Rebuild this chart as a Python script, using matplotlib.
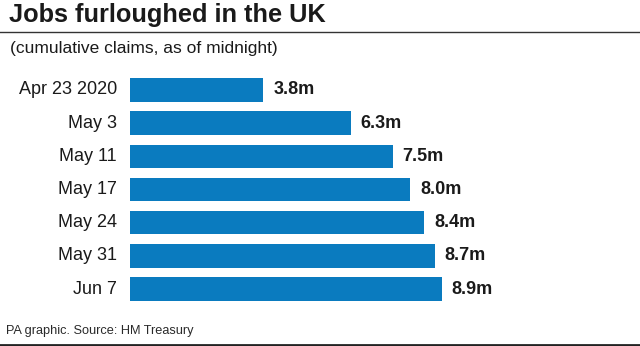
import matplotlib
matplotlib.use("Agg")
import matplotlib.pyplot as plt
from matplotlib.lines import Line2D

plt.rcParams['font.family'] = ['Liberation Sans', 'DejaVu Sans']

dates = ["Apr 23 2020", "May 3", "May 11", "May 17", "May 24", "May 31", "Jun 7"]
claims_m = [3.8, 6.3, 7.5, 8.0, 8.4, 8.7, 8.9]

W, H = 640, 346
fig = plt.figure(figsize=(W / 100, H / 100), dpi=100)

def fx(px):
    return px / W

def fy(py):
    return 1 - py / H

bar_color = "#0a7bbf"

# Bar area: zero at x=130px, ~35px per million
left_px, right_px = 130, 640
top_px, bot_px = 73.4, 305.6
ax = fig.add_axes([fx(left_px), fy(bot_px), fx(right_px - left_px), (bot_px - top_px) / H])
ax.set_xlim(0, (right_px - left_px) / 35.0)
ax.set_ylim(len(dates) - 0.5, -0.5)
ypos = list(range(len(dates)))
ax.barh(ypos, claims_m, height=0.71, color=bar_color)
ax.axis("off")

for y, v, d in zip(ypos, claims_m, dates):
    ax.text(v + 0.29, y, f"{v:.1f}m", va="center", ha="left",
            fontsize=13, fontweight="bold", color="#1a1a1a")
    ax.annotate(d, xy=(0, y), xytext=(-13, 0), textcoords="offset pixels",
                va="center", ha="right", fontsize=13, color="#1a1a1a")

# Title, rule and subtitle
fig.text(fx(9), fy(15), "Jobs furloughed in the UK", fontsize=18.3, fontweight="bold",
         va="center", ha="left", color="#1a1a1a")
fig.add_artist(Line2D([0, 1], [fy(32), fy(32)], color="#333333", lw=1.0,
                      transform=fig.transFigure))
fig.text(fx(10), fy(48), "(cumulative claims, as of midnight)", fontsize=12.5,
         va="center", ha="left", color="#1a1a1a")

# Footer and bottom rule
fig.text(fx(6), fy(331), "PA graphic. Source: HM Treasury",
         fontsize=9.2, va="center", ha="left", color="#2a2a2a")
fig.add_artist(Line2D([0, 1], [fy(344.5), fy(344.5)], color="#222222", lw=2.0,
                      transform=fig.transFigure))

fig.savefig("out.png", dpi=100, facecolor="white")
